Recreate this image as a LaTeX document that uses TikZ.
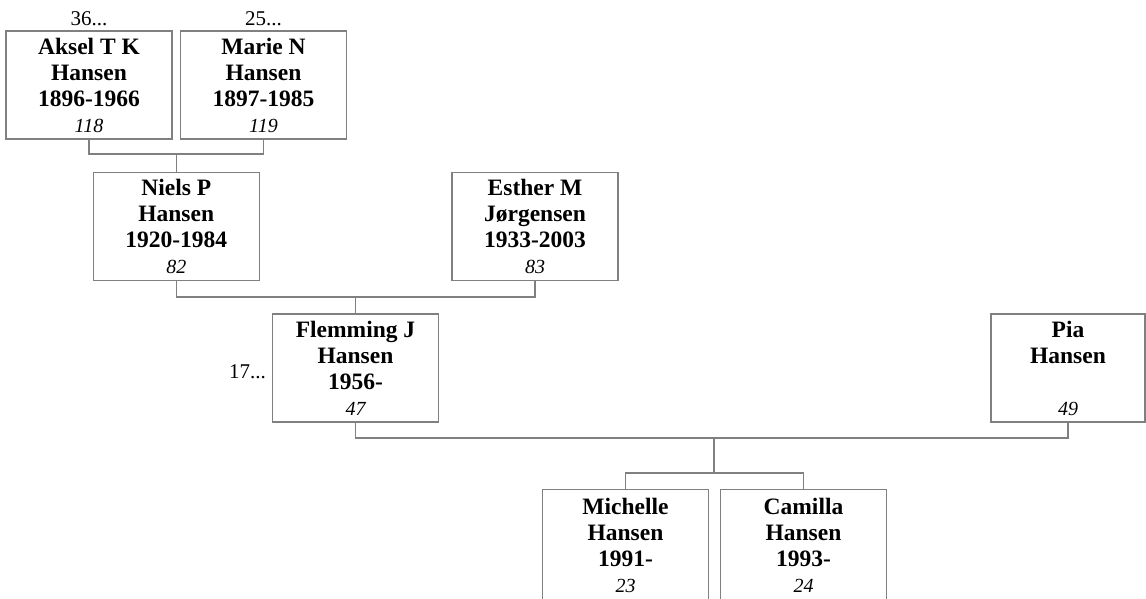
\documentclass[tikz,border=0pt]{standalone}
\usepackage{fontspec}
\setmainfont{Liberation Serif}
\usepackage{tikz}
\definecolor{boxgray}{RGB}{128,128,128}
\usetikzlibrary{positioning}
\newcommand\idno[1]{{\fontsize{20}{26}\selectfont\mdseries\itshape #1}}

\begin{document}
\begin{tikzpicture}[
    x=1pt, y=-1pt,
    person/.style={rectangle, draw=boxgray, line width=1.2pt, minimum width=166pt, minimum height=108pt, inner sep=0pt, align=center, font=\fontsize{23.5}{26}\selectfont\bfseries},
    more/.style={font=\fontsize{21}{24}\selectfont, inner sep=0pt},
    link/.style={draw=boxgray, line width=1.2pt}
]
    \useasboundingbox (0,0) rectangle (1146,598);

    % grandparents
    \node[person] (aksel) at (89, 85) {Aksel T K\\Hansen\\1896-1966\\\idno{118}};
    \node[more, anchor=base] (akselmore) at (89, 25) {36...};

    \node[person] (marie) at (263.5, 85) {Marie N\\Hansen\\1897-1985\\\idno{119}};
    \node[more, anchor=base] (mariemore) at (263.5, 25) {25...};

    % parents
    \node[person] (niels) at (176.25, 226.5) {Niels P\\Hansen\\1920-1984\\\idno{82}};
    \node[person] (esther) at (535, 226.5) {Esther M\\Jørgensen\\1933-2003\\\idno{83}};

    \node[person] (flemming) at (355.5, 368) {Flemming J\\Hansen\\1956-\\\idno{47}};
    \node[more, anchor=base east] (flemmingmore) at (266, 378) {17...};

    \node[person, minimum width=154pt] (pia) at (1068, 368) {Pia\\Hansen\\~\\\idno{49}};

    % children
    \node[person, minimum height=112pt, anchor=north] (michelle) at (625.5, 489) {Michelle\\Hansen\\1991-\\\idno{23}};
    \node[person, minimum height=112pt, anchor=north] (camilla) at (803.5, 489) {Camilla\\Hansen\\1993-\\\idno{24}};

    % connectors
    \coordinate (fam1) at (176.25, 154);
    \coordinate (fam2) at (355.5, 297);
    \coordinate (fam3) at (714, 438);
    \coordinate (kids) at (714, 473);

    \draw[link] (aksel.south) |- (fam1) -| (marie.south);
    \draw[link] (fam1) -- (niels.north);
    \draw[link] (niels.south) |- (fam2) -| (esther.south);
    \draw[link] (fam2) -- (flemming.north);
    \draw[link] (flemming.south) |- (fam3) -| (pia.south);
    \draw[link] (fam3) -- (kids);
    \draw[link] (michelle.north) |- (kids) -| (camilla.north);

\end{tikzpicture}
\end{document}
